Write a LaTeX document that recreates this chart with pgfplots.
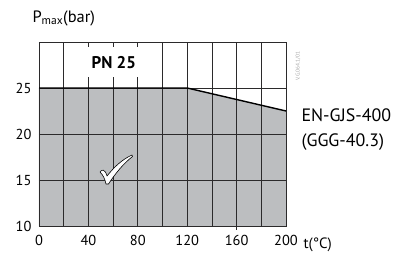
\documentclass[border=0pt]{standalone}
\usepackage{pgfplots}
\pgfplotsset{compat=1.18}
\usepackage{fontspec}
\setmainfont{PT Sans}
\definecolor{fillgray}{HTML}{BCBEC0}
\definecolor{gridc}{HTML}{2B2A2B}
\begin{document}
\begin{tikzpicture}
\begin{axis}[
  scale only axis, width=247bp, height=184bp,
  xmin=0, xmax=200, ymin=10, ymax=30,
  xtick={0,20,...,200},
  xticklabels={0,,40,,80,,120,,160,,200},
  ytick={10,15,20,25,30},
  yticklabels={10,15,20,25,},
  major tick length=0pt,
  grid=major,
  grid style={gridc, line width=0.7bp},
  axis line style={gridc, line width=0.8bp},
  axis on top,
  clip=false,
  tick label style={font=\fontsize{14.5}{16}\selectfont},
  /pgf/number format/assume math mode=true,
  xticklabel style={yshift=-6bp},
  yticklabel style={xshift=-4bp},
]
\addplot[fill=fillgray, draw=none] coordinates {(0,25) (120,25) (200,22.5)} \closedcycle;
\coordinate (pn) at (axis cs:60.5,27.8);
\coordinate (c1) at (axis cs:120,25);
\coordinate (c0) at (axis cs:0,25);
\coordinate (c2) at (axis cs:200,22.5);
\coordinate (t160) at (axis cs:160,10);
\end{axis}
\draw[black, line width=1.4bp] (c0) -- (c1) -- (c2);
\draw[gridc, line width=0.7bp] (t160) -- ++(0,-4bp);
\node[fill=white, inner sep=2bp, minimum width=54bp, minimum height=30bp, font=\fontsize{17}{19}\selectfont\bfseries] at (pn) {PN 25};
% check mark
\draw[black, line width=0.6bp, fill=white, line join=round]
  (61bp,54bp) .. controls (63bp,57bp) and (66bp,57bp) .. (68bp,50bp)
  .. controls (76bp,60bp) and (84bp,67bp) .. (93bp,71bp)
  -- (93.5bp,69.5bp)
  .. controls (84bp,62bp) and (76bp,52bp) .. (69.5bp,42bp)
  -- (67bp,42bp)
  .. controls (66bp,47bp) and (64bp,51bp) .. cycle;
\node[anchor=west, font=\fontsize{16.5}{18}\selectfont] at (-10bp,208bp) {P\textsubscript{max}(bar)};
\node[anchor=west, font=\fontsize{15}{17}\selectfont] at (261bp,-19bp) {t(°C)};
\node[anchor=west, font=\fontsize{18}{20}\selectfont] at (259bp,111bp) {EN-GJS-400};
\node[anchor=west, font=\fontsize{18}{20}\selectfont] at (259bp,84bp) {(GGG-40.3)};
\node[rotate=90, font=\fontsize{5.5}{6}\selectfont, text=black!35] at (259bp,160bp) {V.G.064.1/01};
\useasboundingbox (-39bp,-29bp) rectangle (374bp,226bp);
\end{tikzpicture}
\end{document}
